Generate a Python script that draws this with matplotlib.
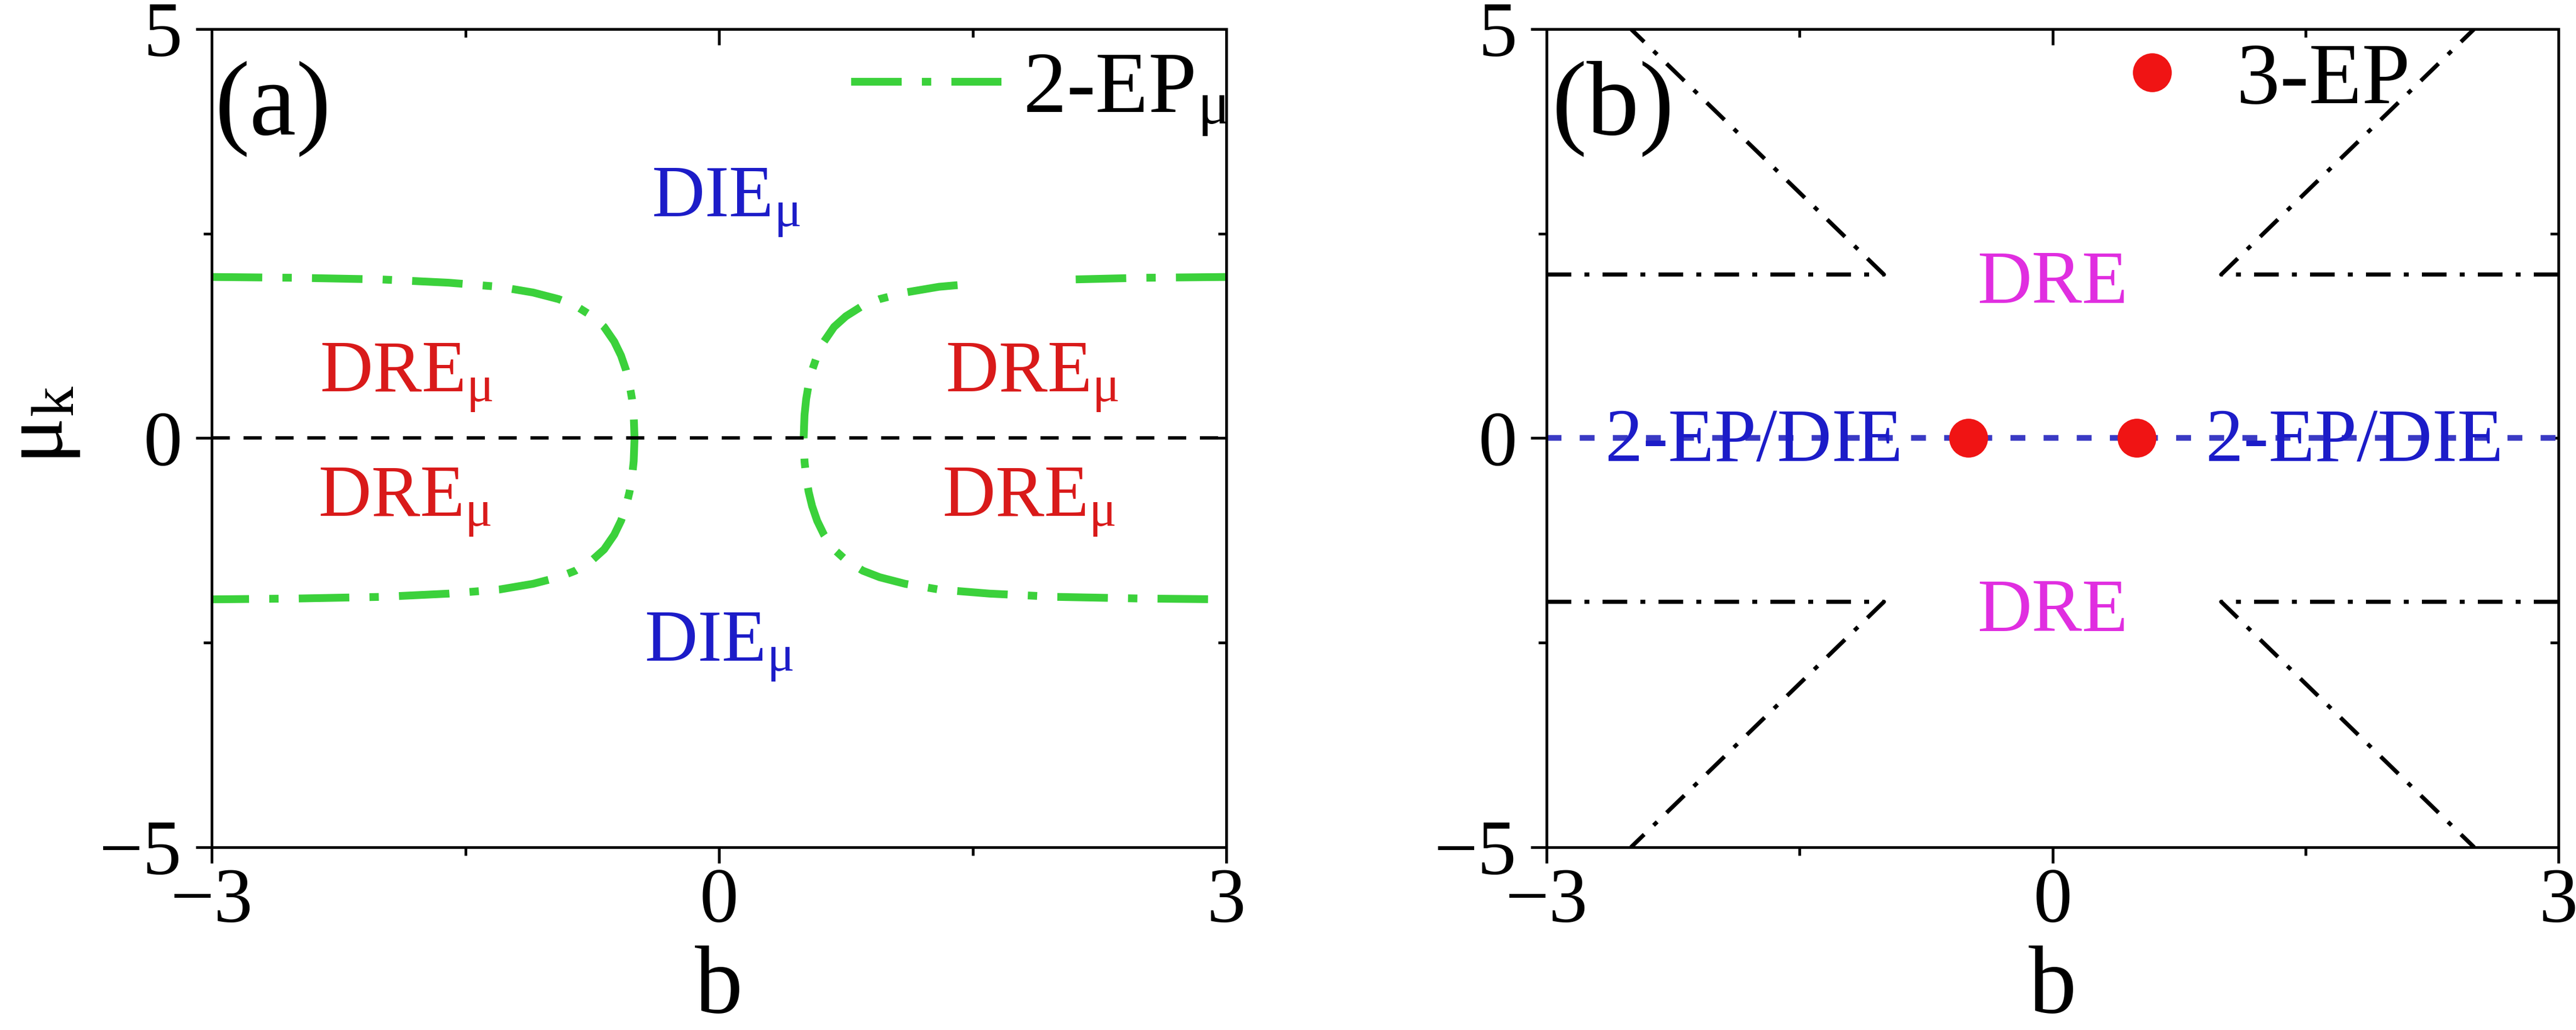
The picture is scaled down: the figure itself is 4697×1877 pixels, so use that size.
import numpy as np
import matplotlib
matplotlib.use("Agg")
import matplotlib.pyplot as plt
from matplotlib.ticker import MultipleLocator

plt.rcParams['font.family'] = ['Liberation Serif', 'DejaVu Serif']
plt.rcParams['mathtext.fontset'] = 'custom'
plt.rcParams['mathtext.rm'] = 'Liberation Serif'
plt.rcParams['mathtext.it'] = 'Liberation Serif'
plt.rcParams['mathtext.bf'] = 'Liberation Serif:bold'

nan = np.nan

# (a) 2-EP_mu boundary
left_b = [-3.0, -2.5, -2.0, -1.6, -1.3, -1.1, -0.95, -0.85, -0.75, -0.68, -0.62, -0.58,
          -0.55, -0.53, -0.515, -0.505, -0.5, -0.505, -0.515, -0.53, -0.55, -0.58, -0.62,
          -0.68, -0.75, -0.85, -0.95, -1.1, -1.3, -1.6, -2.0, -2.5, -3.0]
left_mu = [1.97, 1.96, 1.94, 1.90, 1.85, 1.78, 1.70, 1.62, 1.49, 1.36, 1.18, 1.01,
           0.83, 0.66, 0.48, 0.28, 0.0, -0.28, -0.48, -0.66, -0.83, -1.01, -1.18,
           -1.36, -1.49, -1.62, -1.70, -1.78, -1.85, -1.90, -1.94, -1.96, -1.97]
right_b = [3.0, 2.5, 2.1, nan, 1.41, 1.3, 1.1, 0.95, 0.85, 0.75, 0.68, 0.62, 0.58,
           0.55, 0.53, 0.515, 0.505, 0.5, 0.505, 0.515, 0.53, 0.55, 0.58, 0.62,
           0.68, 0.75, 0.85, 0.95, 1.1, 1.3, 1.6, 2.0, 2.5, 3.0]
right_mu = [1.97, 1.96, 1.94, nan, 1.87, 1.85, 1.78, 1.70, 1.62, 1.49, 1.36, 1.18, 1.01,
            0.83, 0.66, 0.48, 0.28, 0.0, -0.28, -0.48, -0.66, -0.83, -1.01, -1.18,
            -1.36, -1.49, -1.62, -1.70, -1.78, -1.85, -1.90, -1.94, -1.96, -1.97]
zero_b = [-3, 3]
zero_mu = [0, 0]

# region labels (a): text, b, mu (baseline), colour
labels_a = [(r'DIE$_{μ}$', -0.40, 2.71, '#1c1cc8'),
            (r'DIE$_{μ}$', -0.44, -2.72, '#1c1cc8'),
            (r'DRE$_{μ}$', -2.36, 0.57, '#d91a1a'),
            (r'DRE$_{μ}$', -2.37, -0.95, '#d91a1a'),
            (r'DRE$_{μ}$', 1.34, 0.57, '#d91a1a'),
            (r'DRE$_{μ}$', 1.32, -0.95, '#d91a1a')]

# (b) boundaries
bound_b = [[-3, -1, -2.5], [-3, -1, -2.5], [3, 1, 2.5], [3, 1, 2.5]]
bound_mu = [[2, 2, 5], [-2, -2, -5], [2, 2, 5], [-2, -2, -5]]
ep3_b = [-0.5, 0.5]
ep3_mu = [0, 0]
labels_b = [('DRE', 0.0, 1.65, '#e02ee0'),
            ('DRE', 0.0, -2.36, '#e02ee0'),
            ('2-EP/DIE', -1.77, -0.28, '#1c1cc8'),
            ('2-EP/DIE', 1.79, -0.28, '#1c1cc8')]


def style(ax):
    ax.set_xlim(-3, 3)
    ax.set_ylim(-5, 5)
    ax.set_xticks([-3, 0, 3])
    ax.set_yticks([-5, 0, 5])
    ax.xaxis.set_minor_locator(MultipleLocator(1.5))
    ax.yaxis.set_minor_locator(MultipleLocator(2.5))
    ax.tick_params(which='both', direction='out', width=1.2, labelsize=34)
    ax.tick_params(which='major', length=7)
    ax.tick_params(which='minor', length=3.5)
    ax.tick_params(axis='x', pad=2)
    ax.tick_params(axis='y', pad=6)
    for s in ax.spines.values():
        s.set_linewidth(1.2)
    top = ax.secondary_xaxis('top')
    top.set_xticks([-3, 0, 3])
    top.xaxis.set_minor_locator(MultipleLocator(1.5))
    top.tick_params(which='both', direction='in', width=1.2, labeltop=False)
    top.tick_params(which='major', length=7)
    top.tick_params(which='minor', length=3.5)
    top.spines['top'].set_linewidth(1.2)
    right = ax.secondary_yaxis('right')
    right.set_yticks([-5, 0, 5])
    right.yaxis.set_minor_locator(MultipleLocator(2.5))
    right.tick_params(which='both', direction='in', width=1.2, labelright=False)
    right.tick_params(which='major', length=7)
    right.tick_params(which='minor', length=3.5)
    right.spines['right'].set_linewidth(1.2)
    ax.set_xlabel('b', fontsize=42, labelpad=3)


fig = plt.figure(figsize=(4697 / 300, 1877 / 300), dpi=300)
ax1 = fig.add_axes([0.0822, 0.1774, 0.3939, 0.7944])
ax2 = fig.add_axes([0.6004, 0.1774, 0.3928, 0.7944])

# ---- panel (a)
green = '#3bd13b'
ax1.plot(left_b, left_mu, color=green, lw=3.4, dashes=(6.5, 2.6, 1.2, 2.6), label=r'2-EP$_{μ}$')
ax1.plot(right_b, right_mu, color=green, lw=3.4, dashes=(6.5, 2.6, 1.2, 2.6))
ax1.plot(zero_b, zero_mu, color='black', lw=1.5, dashes=(5.3, 4))
for txt, x, y, c in labels_a:
    ax1.text(x, y, txt, color=c, fontsize=32, ha='left', va='baseline')
ax1.text(0.003, 0.961, '(a)', transform=ax1.transAxes, fontsize=46, ha='left', va='top')
ax1.legend(loc='upper left', bbox_to_anchor=(0.630, 0.973), frameon=False, fontsize=38,
           handlelength=1.73, handletextpad=0.25, borderpad=0, borderaxespad=0)
style(ax1)
ax1.set_ylabel(r'μ$_{\mathrm{k}}$', fontsize=38)
ax1.yaxis.set_label_coords(-0.128, 0.516)

# ---- panel (b)
for bb, mm in zip(bound_b, bound_mu):
    ax2.plot(bb, mm, color='black', lw=1.8, dashes=(6, 3.2, 1.2, 3.2))
ax2.plot(zero_b, zero_mu, color='#3a3ac4', lw=2.5, dashes=(2.6, 3.2))
for txt, x, y, c in labels_b:
    ax2.text(x, y, txt, color=c, fontsize=33, ha='center', va='baseline')
ax2.plot(ep3_b, ep3_mu, 'o', color='#f01414', ms=17, mec='none', zorder=5, label='3-EP')
ax2.text(0.005, 0.961, '(b)', transform=ax2.transAxes, fontsize=46, ha='left', va='top')
ax2.legend(loc='upper left', bbox_to_anchor=(0.534, 0.984), frameon=False, fontsize=38,
           handlelength=1.5, handletextpad=0.22, borderpad=0, borderaxespad=0, numpoints=1)
style(ax2)

fig.savefig('out.png', dpi=300)
